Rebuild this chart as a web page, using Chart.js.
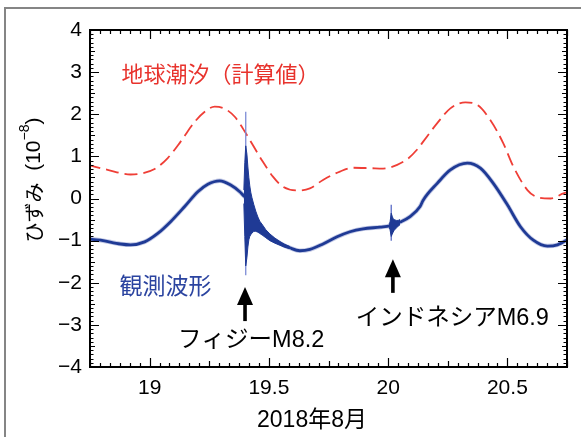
<!DOCTYPE html>
<html>
<head>
<meta charset="utf-8">
<script src="https://cdn.jsdelivr.net/npm/chart.js@4.4.1/dist/chart.umd.min.js"></script>
<style>
  html, body { margin: 0; padding: 0; background: #fff; }
  #wrap { position: relative; width: 581px; height: 437px; overflow: hidden; }
  canvas { position: absolute; left: 0; top: 0; }
</style>
</head>
<body>
<div id="wrap"><canvas id="c" width="581" height="437"></canvas></div>
<script>
// Strain record around 19-20 August 2018 (day of month, JST); strain in units of 1e-8.

// Computed earth tide
const tideDays = [18.74, 18.824, 18.92, 18.962, 19.021, 19.076, 19.13, 19.189, 19.231, 19.273,
  19.315, 19.357, 19.399, 19.42, 19.445, 19.475, 19.517, 19.559, 19.622, 19.672, 19.727,
  19.798, 19.853, 19.924, 19.979, 20.038, 20.084, 20.126, 20.147, 20.206, 20.261, 20.324,
  20.374, 20.429, 20.483, 20.525, 20.584, 20.626, 20.681, 20.735, 20.76];
const tideStrain = [0.80, 0.68, 0.57, 0.59, 0.70, 0.96, 1.35, 1.82, 2.06, 2.18,
  2.13, 1.94, 1.59, 1.39, 1.15, 0.87, 0.52, 0.28, 0.19, 0.24, 0.44,
  0.64, 0.73, 0.72, 0.71, 0.80, 0.95, 1.19, 1.35, 1.79, 2.14, 2.28,
  2.22, 1.86, 1.31, 0.76, 0.20, 0.03, 0.00, 0.12, 0.16];

// Observed strain (background trend of the record)
const obsDays = [18.74, 18.794, 18.878, 18.92, 18.979, 19.034, 19.088, 19.147, 19.202, 19.244,
  19.294, 19.34, 19.378, 19.395, 19.403, 19.429, 19.454, 19.475, 19.504, 19.546, 19.588,
  19.63, 19.672, 19.727, 19.786, 19.84, 19.895, 19.966, 20.008, 20.05, 20.092, 20.134,
  20.147, 20.206, 20.261, 20.332, 20.387, 20.441, 20.5, 20.555, 20.609, 20.668, 20.71, 20.76];
const obsStrain = [-0.96, -0.99, -1.08, -1.10, -1.03, -0.83, -0.55, -0.19, 0.16, 0.34,
  0.42, 0.32, 0.16, 0.06, 0.02, -0.40, -0.61, -0.75, -0.91, -1.06, -1.17,
  -1.24, -1.21, -1.08, -0.91, -0.79, -0.72, -0.68, -0.65, -0.56, -0.43, -0.19,
  -0.04, 0.36, 0.68, 0.84, 0.72, 0.36, -0.15, -0.67, -0.99, -1.13, -1.10, -0.95];

// Fiji M8.2 seismic waves: envelope of the recorded oscillation
const fijiDays = [19.395, 19.399, 19.403, 19.408, 19.412, 19.416, 19.42, 19.424, 19.429, 19.437,
  19.445, 19.454, 19.462, 19.475, 19.487, 19.504, 19.525, 19.546, 19.567, 19.588];
const fijiHigh = [0.20, 0.85, 1.25, 1.05, 0.75, 0.50, 0.30, 0.15, 0.02, -0.15,
  -0.30, -0.44, -0.54, -0.64, -0.74, -0.84, -0.94, -1.02, -1.09, -1.14];
const fijiLow = [-0.12, -0.90, -1.60, -1.40, -1.15, -0.98, -0.90, -0.86, -0.82, -0.78,
  -0.78, -0.80, -0.83, -0.88, -0.93, -1.00, -1.06, -1.11, -1.16, -1.19];
const fijiPeakDay = 19.403;
const fijiPeak = [2.06, -1.82];

// Indonesia M6.9 seismic waves
const lombokDays = [20.004, 20.008, 20.013, 20.017, 20.021, 20.025, 20.034, 20.042, 20.05];
const lombokHigh = [-0.60, -0.56, -0.35, -0.42, -0.48, -0.50, -0.52, -0.52, -0.50];
const lombokLow = [-0.70, -0.74, -0.90, -0.85, -0.80, -0.76, -0.70, -0.66, -0.62];
const lombokPeakDay = 20.013;
const lombokPeak = [-0.15, -1.00];

// Event markers
const quakeNames = ['フィジーM8.2', 'インドネシアM6.9'];
const quakeArrowDays = [19.40, 20.02];
const arrowTip = [-2.10, -1.44];
const arrowEnd = [-2.91, -2.24];
const quakeLabelDays = [19.426, 20.269];
const quakeLabelStrain = [-3.36, -2.86];

// Axis ticks
const xTicks = [19, 19.5, 20, 20.5];
const yTicks = [-4, -3, -2, -1, 0, 1, 2, 3, 4];

const BLUE = '#1f3a95';
const RED = '#ef3e36';
const NUM_FONT = '"Liberation Sans", Arial, sans-serif';
const JP_FONT = '"Liberation Sans", "Noto Sans CJK JP", sans-serif';

const pts = (xs, ys) => xs.map((x, i) => ({ x: x, y: ys[i] }));

const frameAndTicks = {
  id: 'frameAndTicks',
  beforeDraw(chart) {
    const ctx = chart.ctx;
    ctx.save();
    ctx.fillStyle = '#fff';
    ctx.fillRect(0, 0, chart.width, chart.height);
    ctx.fillStyle = '#858585';
    ctx.fillRect(4, 7, 2, chart.height - 7);
    ctx.fillRect(4, 7, chart.width - 4, 2);
    ctx.restore();
  },
  afterDatasetsDraw(chart) {
    const ctx = chart.ctx;
    const { left, right, top, bottom } = chart.chartArea;
    const xs = chart.scales.x, ys = chart.scales.y;
    ctx.save();
    ctx.strokeStyle = '#000';
    ctx.lineWidth = 1.2;
    ctx.beginPath();
    // hourly ticks along the time axis
    for (let k = 450; k <= 498; k++) {
      const px = Math.round(xs.getPixelForValue(k / 24)) + 0.5;
      const len = (k % 12 === 0) ? 9 : (k % 6 === 0 ? 6 : 4);
      ctx.moveTo(px, bottom); ctx.lineTo(px, bottom - len);
      ctx.moveTo(px, top); ctx.lineTo(px, top + len);
    }
    // strain ticks every 0.1
    for (let k = -40; k <= 40; k++) {
      const py = Math.round(ys.getPixelForValue(k / 10)) + 0.5;
      const len = (k % 10 === 0) ? 9 : (k % 5 === 0 ? 5 : 3.5);
      ctx.moveTo(left, py); ctx.lineTo(left + len, py);
      ctx.moveTo(right, py); ctx.lineTo(right - len, py);
    }
    ctx.stroke();
    ctx.lineWidth = 2;
    ctx.strokeRect(left, top, right - left, bottom - top);
    ctx.restore();
  },
  afterDraw(chart) {
    const ctx = chart.ctx;
    const xs = chart.scales.x, ys = chart.scales.y;
    ctx.save();
    // series labels
    ctx.textBaseline = 'middle';
    ctx.textAlign = 'left';
    ctx.font = '22px "Noto Sans CJK JP", sans-serif';
    ctx.fillStyle = '#e8332d';
    ctx.fillText('地球潮汐（計算値）', xs.getPixelForValue(18.882), ys.getPixelForValue(2.96));
    ctx.font = '23px "Noto Sans CJK JP", sans-serif';
    ctx.fillStyle = '#2b44a0';
    ctx.fillText('観測波形', xs.getPixelForValue(18.874), ys.getPixelForValue(-2.05));

    // earthquake arrows and names
    ctx.fillStyle = '#000';
    for (let i = 0; i < quakeNames.length; i++) {
      const ax = xs.getPixelForValue(quakeArrowDays[i]);
      const tip = ys.getPixelForValue(arrowTip[i]);
      const end = ys.getPixelForValue(arrowEnd[i]);
      ctx.beginPath();
      ctx.moveTo(ax, tip);
      ctx.lineTo(ax + 8, tip + 18);
      ctx.lineTo(ax - 8, tip + 18);
      ctx.closePath();
      ctx.fill();
      ctx.fillRect(ax - 1.8, tip + 17, 3.6, end - tip - 17);
      ctx.font = '23.5px ' + JP_FONT;
      ctx.textAlign = 'center';
      ctx.fillText(quakeNames[i], xs.getPixelForValue(quakeLabelDays[i]), ys.getPixelForValue(quakeLabelStrain[i]));
    }

    // axis titles
    ctx.textAlign = 'center';
    ctx.font = '23px ' + JP_FONT;
    ctx.fillText('2018年8月', 312, 421);

    ctx.translate(34, 180);
    ctx.rotate(-Math.PI / 2);
    const fMain = '20px "Noto Sans CJK JP", sans-serif';
    const fNum = '21px ' + NUM_FONT;
    const fSup = '14px ' + NUM_FONT;
    const parts = [
      { t: 'ひずみ', f: fMain, dy: 0 },
      { t: '  (10', f: fNum, dy: 0 },
      { t: '\u22128', f: fSup, dy: -9 },
      { t: ')', f: fNum, dy: 0 }
    ];
    let total = 0;
    parts.forEach(p => { ctx.font = p.f; p.w = ctx.measureText(p.t).width; total += p.w; });
    let cx = -total / 2;
    ctx.textAlign = 'left';
    parts.forEach(p => { ctx.font = p.f; ctx.fillText(p.t, cx, p.dy); cx += p.w; });
    ctx.restore();
  }
};

new Chart(document.getElementById('c'), {
  type: 'line',
  data: {
    datasets: [
      { data: pts(tideDays, tideStrain), borderColor: RED, borderWidth: 1.8, borderDash: [13, 6],
        cubicInterpolationMode: 'monotone', pointRadius: 0, order: 7 },
      { data: pts(obsDays, obsStrain), borderColor: 'rgba(40,60,160,0.28)', borderWidth: 4.5,
        cubicInterpolationMode: 'monotone', pointRadius: 0, order: 6 },
      { data: pts(obsDays, obsStrain), borderColor: BLUE, borderWidth: 2.8,
        cubicInterpolationMode: 'monotone', pointRadius: 0, order: 5 },
      { data: pts([fijiPeakDay, fijiPeakDay], fijiPeak), borderColor: '#7c8bd6', borderWidth: 1.3,
        pointRadius: 0, order: 4 },
      { data: pts([lombokPeakDay, lombokPeakDay], lombokPeak), borderColor: '#5a6cc6', borderWidth: 1.3,
        pointRadius: 0, order: 4 },
      { data: pts(fijiDays, fijiHigh), borderColor: BLUE, borderWidth: 1, pointRadius: 0, tension: 0, order: 2 },
      { data: pts(fijiDays, fijiLow), borderColor: BLUE, borderWidth: 1, pointRadius: 0, tension: 0,
        fill: '-1', backgroundColor: BLUE, order: 3 },
      { data: pts(lombokDays, lombokHigh), borderColor: BLUE, borderWidth: 1, pointRadius: 0, tension: 0, order: 2 },
      { data: pts(lombokDays, lombokLow), borderColor: BLUE, borderWidth: 1, pointRadius: 0, tension: 0,
        fill: '-1', backgroundColor: BLUE, order: 3 }
    ]
  },
  options: {
    responsive: false,
    animation: false,
    devicePixelRatio: 1,
    events: [],
    layout: { padding: { left: 0, top: 30, right: 14, bottom: 0 } },
    plugins: { legend: { display: false }, tooltip: { enabled: false } },
    scales: {
      x: {
        type: 'linear', min: 18.75, max: 20.75,
        grid: { display: false, drawTicks: false },
        border: { display: false },
        afterBuildTicks: s => { s.ticks = xTicks.map(v => ({ value: v })); },
        afterFit: s => { s.height = 70; },
        ticks: { font: { size: 21, family: NUM_FONT }, color: '#000', padding: 9, maxRotation: 0,
          callback: v => String(v) }
      },
      y: {
        type: 'linear', min: -4, max: 4,
        grid: { display: false, drawTicks: false },
        border: { display: false },
        afterBuildTicks: s => { s.ticks = yTicks.map(v => ({ value: v })); },
        afterFit: s => { s.width = 90; },
        ticks: { font: { size: 21, family: NUM_FONT }, color: '#000', padding: 8,
          callback: v => (v < 0 ? '\u2212' + Math.abs(v) : String(v)) }
      }
    }
  },
  plugins: [frameAndTicks]
});
</script>
</body>
</html>
